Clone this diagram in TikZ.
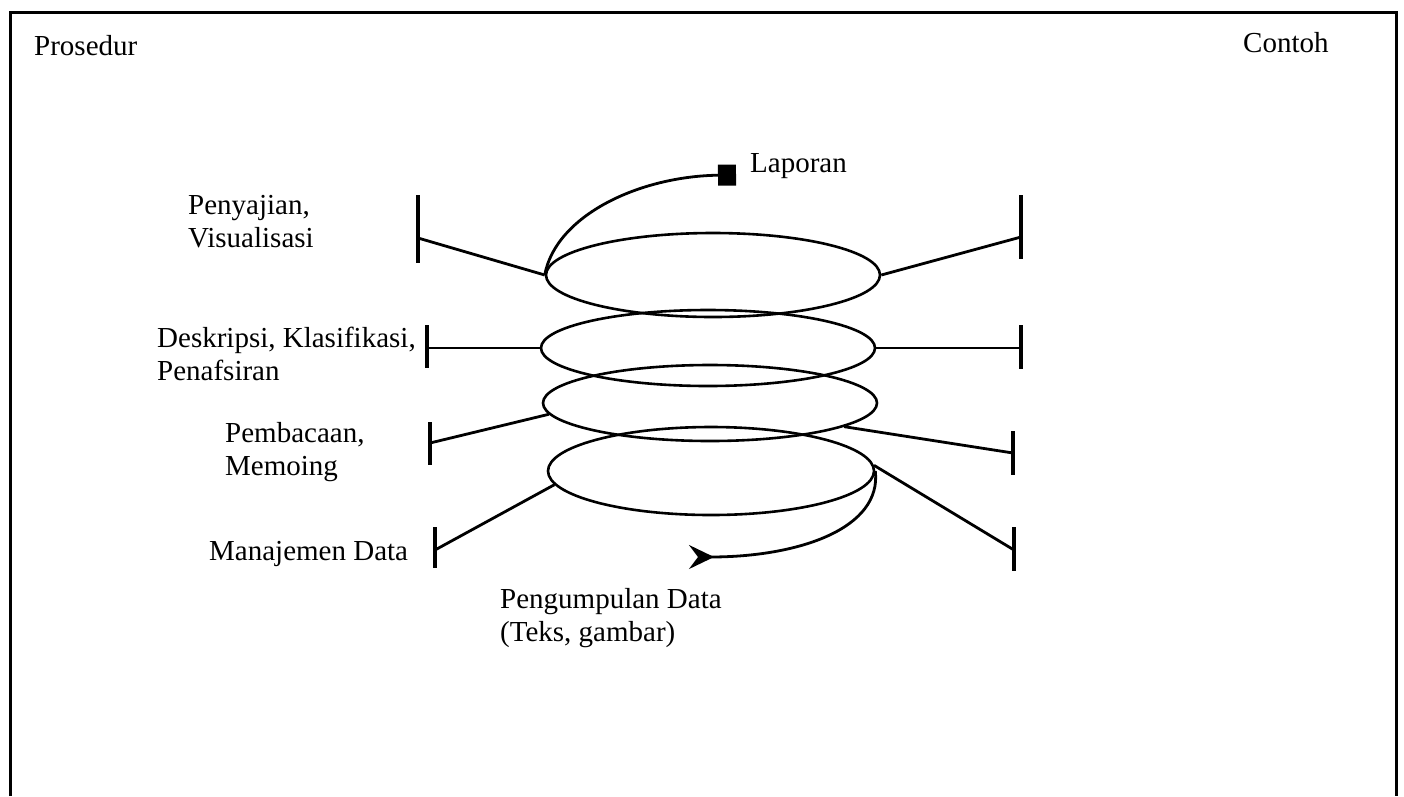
\documentclass[tikz,border=0pt]{standalone}
\usepackage{fontspec}
\setmainfont{Liberation Serif}
\usetikzlibrary{shapes.geometric,arrows.meta}

\begin{document}
\begin{tikzpicture}[
            x=1pt,y=-1pt,
            every node/.style={
                inner sep=0pt,anchor=base west,align=left,
                font=\fontsize{29}{33}\selectfont
            },
            disc/.style={draw,ellipse,line width=2.6pt,anchor=center},
            link/.style={line width=2.8pt},
            bar/.style={line width=3.6pt}
        ]
    \useasboundingbox (0,0) rectangle (1404,796);
    % Frame
        \draw[line width=3pt] (10,796) -- (10,12) -- (1396,12) -- (1396,796);
    % Ellipses
        \node[disc,minimum width=334pt,minimum height=84pt] (e1) at (713,275) {};
        \node[disc,minimum width=334pt,minimum height=76pt] (e2) at (708,348) {};
        \node[disc,minimum width=334pt,minimum height=76pt] (e3) at (710,403) {};
        \node[disc,minimum width=326pt,minimum height=88pt] (e4) at (711,471) {};
    % Bars
    \foreach \n/\x/\ya/\yj/\yb in {l1/418/195/238/263,l2/427/325/348/368,
        l3/430/422/443/465,l4/435/527/550/568,r1/1021/195/237/259,
        r2/1021/325/348/369,r3/1013/431/453/475,r4/1014/527/550/571}{
        \draw[bar] (\x,\ya) -- (\x,\yb);
        \coordinate (\n) at (\x,\yj);
    }
    \foreach \a/\b in {e1.west/l1,e2.west/l2,e3.184/l3,e4.185/l4,
        e1.east/r1,e2.east/r2,e3.350/r3,e4.2/r4}{
        \draw[link] (\a) -- (\b);
    }
    % Arrows
        \coordinate (laptip) at (736,175);
        \coordinate (pdtip) at (689,557);
        \draw[link,-{Square[length=18pt,width=21pt]}] (e1.west)
            .. controls (556,215) and (640,176) .. (laptip);
        \draw[link,-{Stealth[reversed,length=25pt,width=24pt,inset=9pt]}] (e4.east)
            .. controls (882,528) and (800,557) .. (pdtip);
    % Labels
        \node (pros) at (34,55) {Prosedur};
        \node (cont) at (1243,52) {Contoh};
        \node (lap) at (750,172) {Laporan};
        \node (pv) at (188,247) {Penyajian,\\Visualisasi};
        \node (dk) at (157,380) {Deskripsi, Klasifikasi,\\Penafsiran};
        \node (pm) at (225,475) {Pembacaan,\\Memoing};
        \node (md) at (209,560) {Manajemen Data};
        \node (pd) at (500,641) {Pengumpulan Data\\(Teks, gambar)};
\end{tikzpicture}
\end{document}
